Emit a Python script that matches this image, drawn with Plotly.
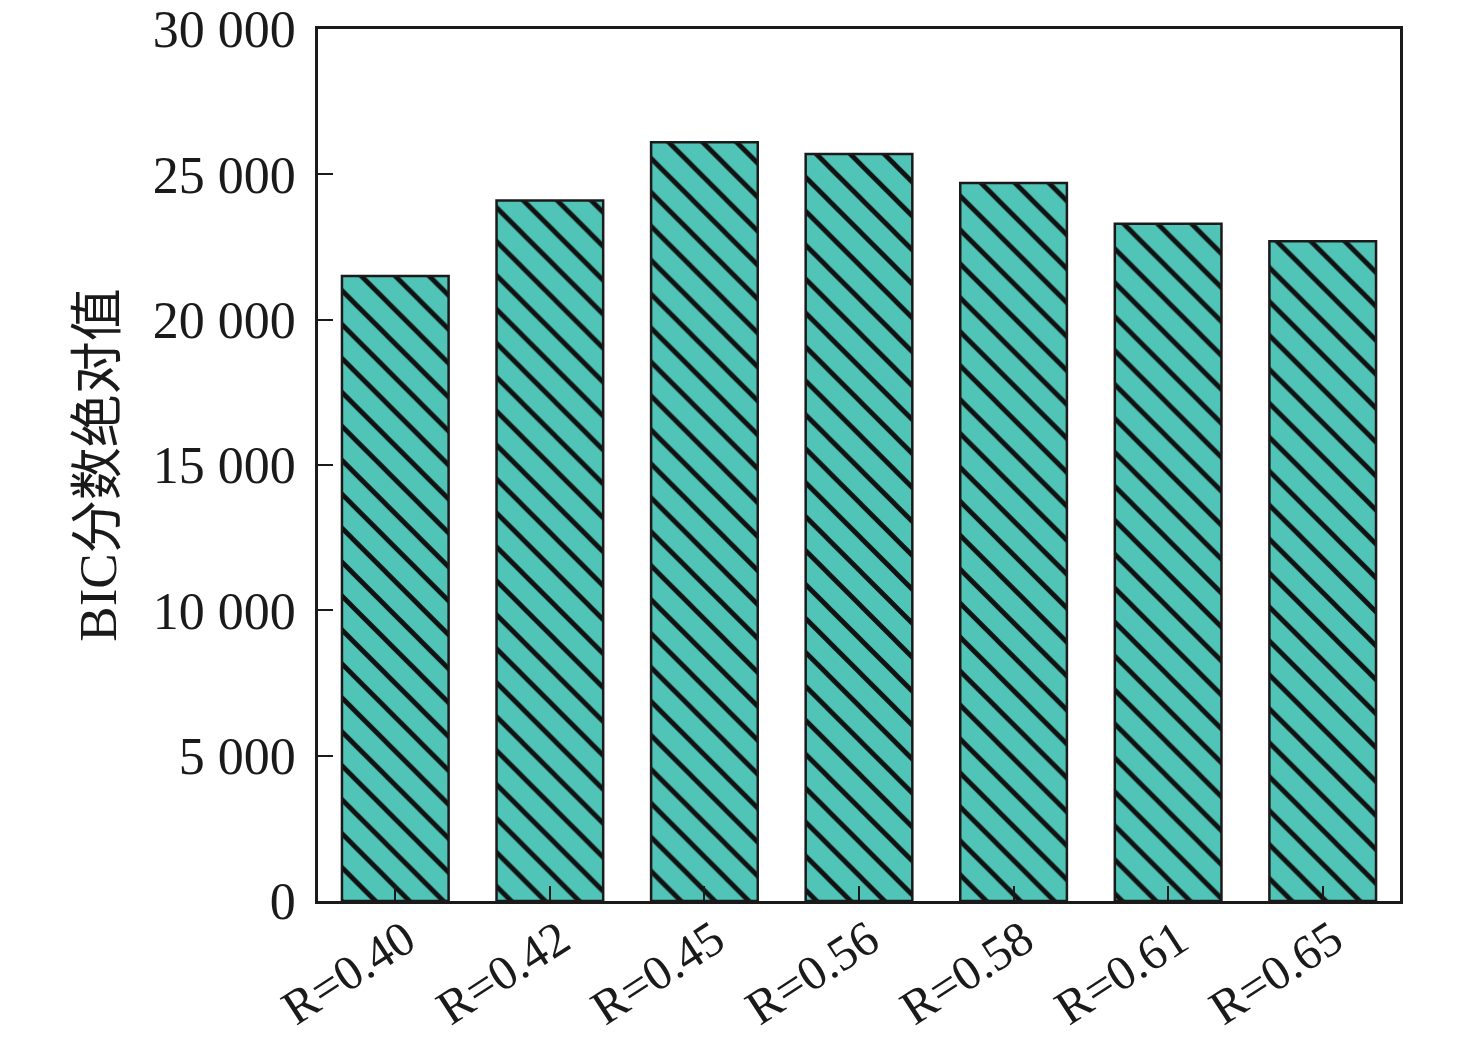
import plotly.graph_objects as go

categories = ["R=0.40", "R=0.42", "R=0.45", "R=0.56", "R=0.58", "R=0.61", "R=0.65"]
values = [21500, 24100, 26100, 25700, 24700, 23300, 22700]
y_ticks = [0, 5000, 10000, 15000, 20000, 25000, 30000]
y_tick_labels = ["0", "5 000", "10 000", "15 000", "20 000", "25 000", "30 000"]

fig = go.Figure()
fig.add_trace(go.Bar(
    x=categories, y=values, width=0.69,
    marker=dict(
        color="#4FC4B7",
        line=dict(color="#1a1a1a", width=2.5),
        pattern=dict(shape="\\", fgcolor="#111111", fgopacity=1, bgcolor="#4FC4B7", size=24, solidity=0.2),
    ),
))

font_family = "Liberation Serif, Times New Roman, Noto Sans CJK SC, serif"
fig.update_layout(
    width=1468, height=1032,
    margin=dict(l=310, r=76, t=21, b=139),
    plot_bgcolor="white", paper_bgcolor="white",
    showlegend=False,
    font=dict(family=font_family, size=52, color="#1a1a1a"),
)
fig.update_xaxes(
    showline=True, linecolor="#1a1a1a", linewidth=2.5, mirror=True,
    ticks="inside", ticklen=15, tickwidth=2, tickcolor="#1a1a1a",
    tickangle=-33, tickfont=dict(size=49, family=font_family),
    ticklabelshift=10, ticklabelstandoff=-12, ticklabeloverflow="allow",
    showgrid=False, automargin=False,
)
fig.update_yaxes(
    range=[0, 30000],
    tickvals=y_ticks, ticktext=y_tick_labels,
    showline=True, linecolor="#1a1a1a", linewidth=2.5, mirror=True,
    ticks="inside", ticklen=15, tickwidth=2, tickcolor="#1a1a1a",
    tickfont=dict(size=52, family=font_family),
    ticklabelstandoff=9, ticklabeloverflow="allow",
    showgrid=False, zeroline=False, automargin=False,
    title=dict(text="BIC分数绝对值", font=dict(size=53, family=font_family), standoff=20),
)

fig.write_html("out.html")
